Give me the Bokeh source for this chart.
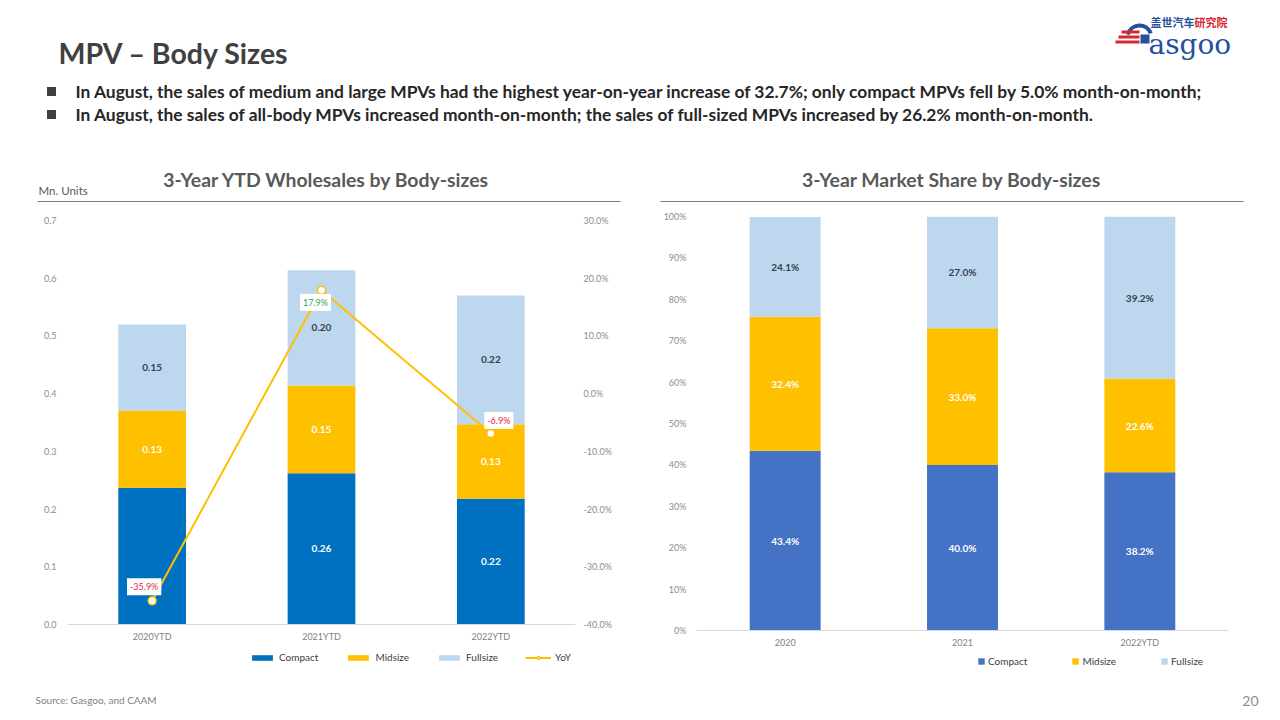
import numpy as np
from bokeh.plotting import figure
from bokeh.models import (ColumnDataSource, Range1d, LinearAxis, FixedTicker,
                          PrintfTickFormatter, Legend, LegendItem, Label)
from bokeh.layouts import column, row
from bokeh.core.properties import value
from bokeh.embed import file_html
from bokeh.resources import INLINE

FONT = "Lato"
CJK = "Noto Sans CJK SC"

# ---------------- data ----------------
ytd_cats = ["2020YTD", "2021YTD", "2022YTD"]
ytd_compact = [0.237, 0.262, 0.218]
ytd_midsize = [0.134, 0.152, 0.129]
ytd_fullsize = [0.149, 0.200, 0.223]
ytd_yoy = [-35.9, 17.9, -6.9]          # percent

share_cats = ["2020", "2021", "2022YTD"]
share_compact = [43.4, 40.0, 38.2]
share_midsize = [32.4, 33.0, 22.6]
share_fullsize = [24.1, 27.0, 39.2]

series_names = ["Compact", "Midsize", "Fullsize"]
left_ticks = [0.0, 0.1, 0.2, 0.3, 0.4, 0.5, 0.6, 0.7]
yoy_ticks = [-40, -30, -20, -10, 0, 10, 20, 30]
share_ticks = [0, 10, 20, 30, 40, 50, 60, 70, 80, 90, 100]

title_text = "MPV \u2013 Body Sizes"
bullets = [
    "In August, the sales of medium and large MPVs had the highest year-on-year increase of 32.7%; only compact MPVs fell by 5.0% month-on-month;",
    "In August, the sales of all-body MPVs increased month-on-month; the sales of full-sized MPVs increased by 26.2% month-on-month.",
]
chart_titles = ["3-Year YTD Wholesales by Body-sizes", "3-Year Market Share by Body-sizes"]
source_text = "Source: Gasgoo, and CAAM"
page_no = "20"

# ---------------- styles ----------------
C_BLUE = "#0070C0"
C_BLUE2 = "#4472C4"
C_GOLD = "#FFC000"
C_LIGHT = "#BDD7EE"
C_DARKLBL = "#333F50"
C_TICK = "#8C8C8C"
C_RED = "#E8283C"
C_GREEN = "#2EAA4E"

# chart figures: page y 205..692; frames 216..675 (459 px) with room for the legend
CH_TOP, CH_H = 205, 487
B_TOP, B_BOT = 11, 17
FRAME_H = CH_H - B_TOP - B_BOT


def padded(lo, hi, pad_top, pad_bot):
    per_px = (hi - lo) / (FRAME_H - pad_top - pad_bot)
    return Range1d(lo - pad_bot * per_px, hi + pad_top * per_px)


def canvas(w, y_top, y_bottom):
    p = figure(width=w, height=y_bottom - y_top, x_range=Range1d(0, w),
               y_range=Range1d(y_bottom, y_top), output_backend="svg",
               toolbar_location=None, min_border=0, x_axis_location=None,
               y_axis_location=None, outline_line_color=None)
    p.grid.visible = False
    return p


# ---------------- header ----------------
hdr = canvas(1280, 0, CH_TOP)
hdr.text(x=[58], y=[52], text=[title_text], text_font=value(FONT), text_font_style="bold",
         text_font_size="28.5px", text_color="#404040", text_baseline="middle")
hdr.rect(x=[51, 51], y=[91, 114], width=9, height=9, fill_color="#404040", line_color=None)
hdr.text(x=[75, 75], y=[91, 114], text=bullets, text_font=value(FONT), text_font_style="bold",
         text_font_size="17.4px", text_color="#262626", text_baseline="middle")
hdr.text(x=[326, 951], y=[179, 179], text=chart_titles, text_font=value(FONT),
         text_font_style="bold", text_font_size="19.4px", text_color="#595959",
         text_baseline="middle", text_align="center")
hdr.segment(x0=[37, 660], y0=[201, 201], x1=[620, 1243], y1=[201, 201],
            line_color="#7F7F7F", line_width=1)
hdr.text(x=[38], y=[190], text=["Mn. Units"], text_font=value(FONT), text_font_size="11.5px",
         text_color="#595959", text_baseline="middle")
# logo
LOGO_BLUE = "#24509E"
LOGO_RED = "#D7282F"
hdr.arc(x=[1139], y=[37], radius=12, radius_units="screen", start_angle=0.35,
        end_angle=2.9, line_width=4, line_color=LOGO_BLUE)
hdr.quad(left=[1121, 1118, 1115], right=[1139, 1139, 1139], top=[30, 35, 40],
         bottom=[33, 38, 43], fill_color=LOGO_RED, line_color=None)
hdr.quad(left=[1140], right=[1149], top=[34], bottom=[43], fill_color=LOGO_BLUE, line_color=None)
hdr.text(x=[1148], y=[44], text=["asgoo"], text_font=value("DejaVu Serif"),
         text_font_size="28px", text_color=LOGO_BLUE, text_baseline="alphabetic")
hdr.text(x=[1150, 1194], y=[21, 21], text=["\u76d6\u4e16\u6c7d\u8f66", "\u7814\u7a76\u9662"],
         text_font=value(CJK), text_font_style="bold", text_font_size="11px",
         text_color=[LOGO_BLUE, LOGO_RED], text_baseline="middle")


def style_axes(p):
    for ax in p.yaxis:
        ax.axis_line_color = None
        ax.major_tick_line_color = None
        ax.minor_tick_line_color = None
        ax.major_tick_out = 0
        ax.major_tick_in = 0
        ax.major_label_text_font = FONT
        ax.major_label_text_font_size = "9px"
        ax.major_label_text_color = C_TICK
    for ax in p.xaxis:
        ax.fixed_location = 0
        ax.axis_line_color = "#D9D9D9"
        ax.major_tick_line_color = None
        ax.minor_tick_line_color = None
        ax.major_tick_out = 0
        ax.major_tick_in = 0
        ax.major_label_text_font = FONT
        ax.major_label_text_font_size = "9px"
        ax.major_label_text_color = "#7F7F7F"
        ax.major_label_standoff = 6
    p.grid.visible = False


def stack_label_source(cats, cols, fmt, colors, hidden=()):
    xs, ys, ts, cs = [], [], [], []
    bottom = np.zeros(len(cats))
    for k, (vals, col) in enumerate(zip(cols, colors)):
        vals = np.asarray(vals, dtype=float)
        for i, c in enumerate(cats):
            if (k, i) in hidden:
                continue
            xs.append(c)
            ys.append(bottom[i] + vals[i] / 2)
            ts.append(fmt(vals[i]))
            cs.append(col)
        bottom = bottom + vals
    return ColumnDataSource(dict(x=xs, y=ys, t=ts, c=cs))


def make_legend(items, loc, gw, gh, standoff, spacing):
    return Legend(items=items, orientation="horizontal", location=loc, glyph_width=gw,
                  glyph_height=gh, label_standoff=standoff, spacing=spacing, padding=0,
                  margin=0, label_height=12, label_text_font=FONT,
                  label_text_font_size="10px", label_text_color="#404040",
                  border_line_color=None, background_fill_alpha=0)


def chart(cats, y_range, border_left, border_right):
    p = figure(width=640, height=CH_H, x_range=cats, y_range=y_range,
               output_backend="svg", toolbar_location=None, outline_line_color=None,
               min_border_left=border_left, min_border_right=border_right,
               min_border_top=B_TOP, min_border_bottom=B_BOT)
    p.x_range.range_padding = 0
    return p


# ---------------- left chart ----------------
lsrc = ColumnDataSource(dict(cat=ytd_cats, Compact=ytd_compact, Midsize=ytd_midsize,
                             Fullsize=ytd_fullsize, yoy=ytd_yoy))
lp = chart(ytd_cats, padded(0, 0.7, 4, 51), 67, 65)
lp.extra_y_ranges = {"yoy": padded(-40, 30, 4, 51)}
lbars = lp.vbar_stack(series_names, x="cat", width=0.4, source=lsrc,
                      fill_color=[C_BLUE, C_GOLD, C_LIGHT], line_color=None)
lp.yaxis.ticker = FixedTicker(ticks=left_ticks)
lp.yaxis.formatter = PrintfTickFormatter(format="%.1f")
lp.yaxis.major_label_standoff = 11
yoy_axis = LinearAxis(y_range_name="yoy", ticker=FixedTicker(ticks=yoy_ticks),
                      formatter=PrintfTickFormatter(format="%.1f%%"), major_label_standoff=8)
lp.add_layout(yoy_axis, "right")
style_axes(lp)

llab = stack_label_source(ytd_cats, [ytd_compact, ytd_midsize, ytd_fullsize],
                          lambda v: f"{v:.2f}", ["white", "white", C_DARKLBL], hidden={(0, 0)})
lp.text(x="x", y="y", text="t", text_color="c", source=llab, text_font=value(FONT),
        text_font_style="bold", text_font_size="10px", text_align="center",
        text_baseline="middle")

yoy_line = lp.line(x="cat", y="yoy", source=lsrc, y_range_name="yoy", line_color=C_GOLD,
                   line_width=2)
yoy_pts = lp.scatter(x="cat", y="yoy", source=lsrc, y_range_name="yoy", size=8,
                     fill_color="white", line_color=C_GOLD, line_width=1.5)
yoy_offsets = [(-8, 14), (-6, -12), (8, 13)]
for i, (v, (dx, dy)) in enumerate(zip(ytd_yoy, yoy_offsets)):
    lp.add_layout(Label(x=i + 0.5, y=v, y_range_name="yoy", x_offset=dx, y_offset=dy,
                        text=f"{v:.1f}%", text_color=C_RED if v < 0 else C_GREEN,
                        text_font=FONT, text_font_size="9px", text_align="center",
                        text_baseline="middle", background_fill_color="white", padding=3))

lleg = make_legend([LegendItem(label=series_names[0], renderers=[lbars[0]]),
                    LegendItem(label=series_names[1], renderers=[lbars[1]]),
                    LegendItem(label=series_names[2], renderers=[lbars[2]]),
                    LegendItem(label="YoY", renderers=[yoy_line, yoy_pts])],
                   (182, 12), 26, 7, 4, 27)
lp.add_layout(lleg)

# ---------------- right chart ----------------
rsrc = ColumnDataSource(dict(cat=share_cats, Compact=share_compact, Midsize=share_midsize,
                             Fullsize=share_fullsize))
rp = chart(share_cats, padded(0, 100, 0, 45), 56, 52)
rbars = rp.vbar_stack(series_names, x="cat", width=0.4, source=rsrc,
                      fill_color=[C_BLUE2, C_GOLD, C_LIGHT], line_color=None)
rp.yaxis.ticker = FixedTicker(ticks=share_ticks)
rp.yaxis.formatter = PrintfTickFormatter(format="%d%%")
rp.yaxis.major_label_standoff = 10
style_axes(rp)
rlab = stack_label_source(share_cats, [share_compact, share_midsize, share_fullsize],
                          lambda v: f"{v:.1f}%", ["white", "white", C_DARKLBL])
rp.text(x="x", y="y", text="t", text_color="c", source=rlab, text_font=value(FONT),
        text_font_style="bold", text_font_size="10px", text_align="center",
        text_baseline="middle")
rleg = make_legend([LegendItem(label=n, renderers=[r]) for n, r in zip(series_names, rbars)],
                   (281, 8), 8, 8, 3, 44)
rp.add_layout(rleg)

# ---------------- footer ----------------
FT_TOP = CH_TOP + CH_H
ftr = canvas(1280, FT_TOP, 720)
ftr.text(x=[35], y=[699], text=[source_text], text_font=value(FONT), text_font_size="10px",
         text_color="#7F7F7F", text_baseline="middle")
ftr.text(x=[1258], y=[700], text=[page_no], text_font=value(FONT), text_font_size="14px",
         text_color="#8C8C8C", text_baseline="middle", text_align="right")

layout = column(hdr, row(lp, rp, spacing=0), ftr, spacing=0)
open("out.html", "w").write(file_html(layout, INLINE))
